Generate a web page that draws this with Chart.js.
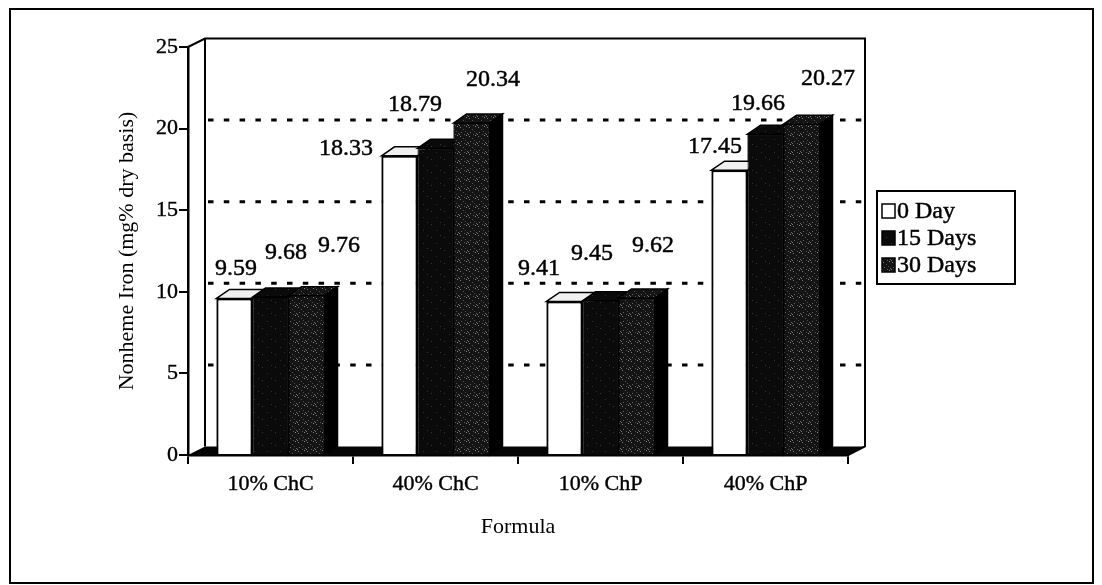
<!DOCTYPE html>
<html>
<head>
<meta charset="utf-8">
<title>Nonheme Iron by Formula</title>
<script src="https://cdn.jsdelivr.net/npm/chart.js@4.4.1/dist/chart.umd.min.js"></script>
<style>
  html, body { margin: 0; padding: 0; background: #ffffff; }
  #wrap { width: 1102px; height: 585px; position: relative; }
</style>
</head>
<body>
<div id="wrap"><canvas id="chart" width="1102" height="585"></canvas></div>
<script>
// ---- data ----
const formulas = ['10% ChC', '40% ChC', '10% ChP', '40% ChP'];
const seriesNames = ['0 Day', '15 Days', '30 Days'];
const day0 = [9.59, 18.33, 9.41, 17.45];
const day15 = [9.68, 18.79, 9.45, 19.66];
const day30 = [9.76, 20.34, 9.62, 20.27];
const yTickValues = [0, 5, 10, 15, 20, 25];
const yTitle = 'Nonheme Iron (mg% dry basis)';
const xTitle = 'Formula';

// ---- look ----
const FONT = 'Liberation Serif';
const WALL = { dx: 17, dy: -8.5 };   // depth of the back wall
const BAR = { dx: 13, dy: -9 };      // depth of each column
// value labels were placed by hand: offset from the top-centre of each front face
const labelNudge = [
  [[1.5, -29.5], [-53.5, -7], [-25.5, -32.4], [-14.5, -24]],
  [[15.5, -44], [-20.5, -43.3], [-8.5, -46.8], [-7.5, -30]],
  [[32.5, -49.7], [21.5, -43], [16.5, -52], [26.5, -45]]
];

function makePattern(base, dots, size) {
  const c = document.createElement('canvas');
  c.width = size; c.height = size;
  const g = c.getContext('2d');
  g.fillStyle = base;
  g.fillRect(0, 0, size, size);
  dots.forEach(([x, y, col]) => { g.fillStyle = col; g.fillRect(x, y, 1, 1); });
  return g.createPattern(c, 'repeat');
}
const fill15 = makePattern('#0a0a0a', [[2, 3, '#3a3a3a'], [7, 9, '#2e2e2e'], [11, 1, '#333']], 13);
const fill30 = makePattern('#141414', [
  [1, 1, '#7a7a7a'], [4, 3, '#555'], [7, 0, '#8a8a8a'], [2, 6, '#666'],
  [6, 5, '#4a4a4a'], [0, 8, '#777'], [5, 8, '#5a5a5a'], [8, 7, '#6a6a6a']
], 9);
const topFills = ['#f0f0f0', fill15, fill30];

// heavier text, like the printed figure
function inkText(ctx, text, x, y) {
  ctx.lineWidth = 0.45;
  ctx.strokeStyle = '#000';
  ctx.strokeText(text, x, y);
  ctx.fillText(text, x, y);
}

// outer frame of the figure
const framePlugin = {
  id: 'frame',
  beforeDraw(chart) {
    const ctx = chart.ctx;
    ctx.save();
    ctx.fillStyle = '#ffffff';
    ctx.fillRect(0, 0, chart.width, chart.height);
    ctx.strokeStyle = '#000';
    ctx.lineWidth = 2;
    ctx.strokeRect(10, 9, 1083, 574);
    ctx.restore();
  }
};

// walls, floor and dashed gridlines of the 3-D box, then the column faces
const boxPlugin = {
  id: 'box3d',
  beforeDatasetsDraw(chart) {
    const { ctx, chartArea: a, scales: { y } } = chart;
    const L = a.left, R = a.right, T = a.top, B = a.bottom;
    const dx = WALL.dx, dy = WALL.dy;
    ctx.save();
    ctx.strokeStyle = '#000';
    ctx.lineJoin = 'miter';
    // floor
    ctx.fillStyle = '#050505';
    ctx.beginPath();
    ctx.moveTo(L, B); ctx.lineTo(L + dx, B + dy); ctx.lineTo(R + dx, B + dy); ctx.lineTo(R, B);
    ctx.closePath(); ctx.fill();
    // side and back wall outlines
    ctx.lineWidth = 2;
    ctx.beginPath();
    ctx.moveTo(L, T); ctx.lineTo(L + dx, T + dy);
    ctx.lineTo(R + dx, T + dy); ctx.lineTo(R + dx, B + dy); ctx.lineTo(R, B);
    ctx.moveTo(L + dx, T + dy); ctx.lineTo(L + dx, B + dy);
    ctx.stroke();
    // dashed gridlines on the back wall
    ctx.lineWidth = 3;
    ctx.lineCap = 'butt';
    ctx.setLineDash([5.5, 10.3]);
    yTickValues.slice(1, -1).forEach(v => {
      const py = y.getPixelForValue(v) + dy;
      ctx.beginPath();
      ctx.moveTo(L + dx + 3, py); ctx.lineTo(R + dx - 1, py);
      ctx.stroke();
    });
    ctx.restore();
  },
  afterDatasetsDraw(chart) {
    const ctx = chart.ctx;
    const base = chart.scales.y.getPixelForValue(0);
    ctx.save();
    ctx.strokeStyle = '#000';
    ctx.lineWidth = 1.5;
    ctx.lineJoin = 'miter';
    for (let j = 0; j < formulas.length; j++) {
      for (let i = 0; i < seriesNames.length; i++) {
        const el = chart.getDatasetMeta(i).data[j];
        const { x, y, width } = el.getProps(['x', 'y', 'width'], true);
        const l = x - width / 2, r = x + width / 2;
        // right side face
        ctx.fillStyle = i === 0 ? '#d8d8d8' : '#000';
        ctx.beginPath();
        ctx.moveTo(r, y); ctx.lineTo(r + BAR.dx, y + BAR.dy);
        ctx.lineTo(r + BAR.dx, base + BAR.dy); ctx.lineTo(r, base);
        ctx.closePath(); ctx.fill(); ctx.stroke();
        // top face
        ctx.fillStyle = topFills[i];
        ctx.beginPath();
        ctx.moveTo(l, y); ctx.lineTo(l + BAR.dx, y + BAR.dy);
        ctx.lineTo(r + BAR.dx, y + BAR.dy); ctx.lineTo(r, y);
        ctx.closePath(); ctx.fill(); ctx.stroke();
        // front face repainted on top so nearer columns hide farther faces
        el.draw(ctx, chart.chartArea);
      }
    }
    ctx.restore();
  }
};

// value labels
const labelPlugin = {
  id: 'valueLabels',
  afterDatasetsDraw(chart) {
    const ctx = chart.ctx;
    ctx.save();
    ctx.font = `24px "${FONT}"`;
    ctx.fillStyle = '#000';
    ctx.textAlign = 'center';
    ctx.textBaseline = 'middle';
    chart.data.datasets.forEach((ds, i) => {
      chart.getDatasetMeta(i).data.forEach((el, j) => {
        const [ox, oy] = labelNudge[i][j];
        inkText(ctx, ds.data[j].toFixed(2), el.x + ox, el.y + oy);
      });
    });
    ctx.restore();
  }
};

// boxed legend at the right
const legendPlugin = {
  id: 'boxLegend',
  afterDraw(chart) {
    const ctx = chart.ctx;
    const bx = 877, by = 191, bw = 138, bh = 93;
    ctx.save();
    ctx.strokeStyle = '#000';
    ctx.lineWidth = 2;
    ctx.strokeRect(bx, by, bw, bh);
    ctx.font = `24px "${FONT}"`;
    ctx.textBaseline = 'middle';
    ctx.textAlign = 'left';
    chart.data.datasets.forEach((ds, i) => {
      const cy = by + 20 + i * 27;
      ctx.fillStyle = ds.backgroundColor;
      ctx.fillRect(882, cy - 7, 13, 14);
      ctx.lineWidth = 1.5;
      ctx.strokeStyle = '#000';
      ctx.strokeRect(882, cy - 7, 13, 14);
      ctx.fillStyle = '#000';
      inkText(ctx, ds.label, 897, cy + 1);
    });
    ctx.restore();
  }
};

const ctx = document.getElementById('chart').getContext('2d');
new Chart(ctx, {
  type: 'bar',
  data: {
    labels: formulas,
    datasets: [
      { label: seriesNames[0], data: day0, backgroundColor: '#ffffff', borderColor: '#000', borderWidth: 2 },
      { label: seriesNames[1], data: day15, backgroundColor: fill15, borderColor: '#000', borderWidth: 1 },
      { label: seriesNames[2], data: day30, backgroundColor: fill30, borderColor: '#000', borderWidth: 1 }
    ]
  },
  options: {
    responsive: false,
    animation: false,
    devicePixelRatio: 1,
    categoryPercentage: 0.6545,
    barPercentage: 1,
    layout: { padding: { left: 0, right: 254, top: 47, bottom: 40 } },
    scales: {
      x: {
        grid: { offset: true, drawOnChartArea: false, drawTicks: true, tickLength: 9, color: '#000', lineWidth: 2 },
        border: { display: true, color: '#000', width: 2.5 },
        ticks: { font: { family: FONT, size: 22 }, color: '#000', padding: 7, textStrokeColor: '#000', textStrokeWidth: 0.4 },
        title: { display: true, text: xTitle, font: { family: FONT, size: 22 }, color: '#000', padding: { top: 0, bottom: 5 } },
        afterFit(scale) { scale.height = 90; }
      },
      y: {
        min: 0,
        max: 25,
        afterBuildTicks(scale) { scale.ticks = yTickValues.map(v => ({ value: v })); },
        ticks: { font: { family: FONT, size: 22 }, color: '#000', padding: 1, textStrokeColor: '#000', textStrokeWidth: 0.4 },
        grid: { drawOnChartArea: false, drawTicks: true, tickLength: 9, color: '#000', lineWidth: 2 },
        border: { display: true, color: '#000', width: 2.5 },
        title: { display: true, text: yTitle, font: { family: FONT, size: 22 }, color: '#000', padding: { top: 114, bottom: 0 } },
        afterFit(scale) { scale.width = 188; }
      }
    },
    plugins: { legend: { display: false }, tooltip: { enabled: false } }
  },
  plugins: [framePlugin, boxPlugin, labelPlugin, legendPlugin]
});
</script>
</body>
</html>
